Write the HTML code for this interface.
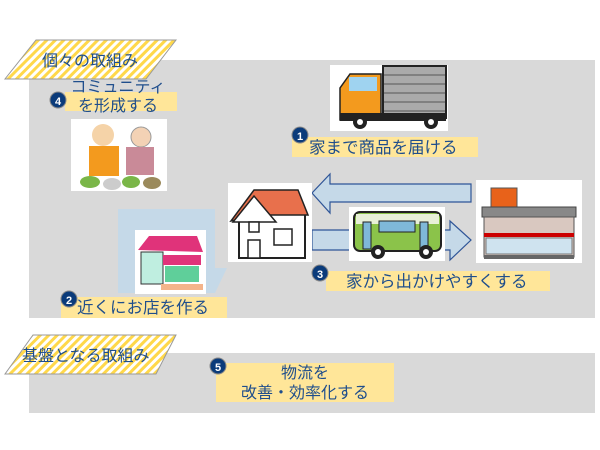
<!DOCTYPE html>
<html><head><meta charset="utf-8"><style>
html,body{margin:0;padding:0;background:#fff;width:600px;height:450px;overflow:hidden}
svg{display:block}
text{font-family:"Liberation Sans","Noto Sans CJK JP",sans-serif;fill:#1f4e8c}
</style></head><body>
<svg width="600" height="450" viewBox="0 0 600 450" xmlns="http://www.w3.org/2000/svg">
<defs>
<pattern id="hatch" width="6" height="6" patternUnits="userSpaceOnUse" patternTransform="rotate(45)">
<rect width="6" height="6" fill="#fff"/><rect width="3" height="6" fill="#ffd84a"/>
</pattern>
</defs>
<rect x="29" y="60" width="566" height="258" fill="#d9d9d9"/>
<rect x="29" y="353" width="566" height="60" fill="#d9d9d9"/>
<polygon points="36,40 176,40 146,79 5,79" fill="url(#hatch)" stroke="#999" stroke-width="1"/>
<text x="42" y="66" font-size="16">個々の取組み</text>
<polygon points="33,335 176,335 156,374 5,374" fill="url(#hatch)" stroke="#999" stroke-width="1"/>
<text x="22" y="361" font-size="16">基盤となる取組み</text>

<!-- item 4 -->
<rect x="65" y="92" width="112" height="19" fill="#ffe699"/>
<text x="118" y="92" font-size="16" text-anchor="middle">コミュニティ</text>
<text x="118" y="111" font-size="16" text-anchor="middle">を形成する</text>
<circle cx="58" cy="100" r="8" fill="#0b3b7a" stroke="#888" stroke-width="1"/>
<text x="58" y="105" font-size="11" font-weight="bold" text-anchor="middle" style="fill:#fff">4</text>
<rect x="71" y="119" width="96" height="72" fill="#fff"/>
<circle cx="103" cy="135" r="11" fill="#f5d3a8"/>
<circle cx="141" cy="137" r="10" fill="#f3d2b5" stroke="#999"/>
<rect x="89" y="146" width="30" height="30" fill="#f39a1e"/>
<rect x="126" y="147" width="28" height="28" fill="#c98a98"/>
<ellipse cx="90" cy="182" rx="10" ry="6" fill="#7ab648"/>
<ellipse cx="112" cy="184" rx="9" ry="6" fill="#ccc"/>
<ellipse cx="131" cy="182" rx="9" ry="6" fill="#7ab648"/>
<ellipse cx="152" cy="183" rx="9" ry="6" fill="#9b8a5c"/>

<!-- truck -->
<rect x="330" y="65" width="118" height="66" fill="#fff"/>
<rect x="383" y="66" width="63" height="52" fill="#aaa" stroke="#222" stroke-width="2"/>
<g stroke="#555" stroke-width="1"><line x1="384" y1="75" x2="445" y2="75"/><line x1="384" y1="84" x2="445" y2="84"/><line x1="384" y1="93" x2="445" y2="93"/><line x1="384" y1="102" x2="445" y2="102"/><line x1="384" y1="111" x2="445" y2="111"/></g>
<path d="M340 120 L340 88 L350 74 L381 74 L381 120 Z" fill="#f39a1e" stroke="#222" stroke-width="1.5"/>
<rect x="349" y="77" width="28" height="14" fill="#9fd3f0"/>
<rect x="340" y="113" width="106" height="8" fill="#222"/>
<circle cx="360" cy="122" r="7" fill="#222"/><circle cx="360" cy="122" r="3" fill="#fff"/>
<circle cx="431" cy="122" r="7" fill="#222"/><circle cx="431" cy="122" r="3" fill="#fff"/>

<rect x="292" y="137" width="186" height="20" fill="#ffe699"/>
<text x="309" y="153" font-size="16.5">家まで商品を届ける</text>
<circle cx="300" cy="135" r="8" fill="#0b3b7a" stroke="#888"/>
<text x="300" y="140" font-size="11" font-weight="bold" text-anchor="middle" style="fill:#fff">1</text>

<!-- arrows -->
<polygon points="471,184 330,184 330,174 312,193 330,213 330,202 471,202" fill="#c5d9e8" stroke="#2f5597" stroke-width="1.2"/>
<polygon points="312,230 450,230 450,221 471,240 450,260 450,250 312,250" fill="#c5d9e8" stroke="#2f5597" stroke-width="1.2"/>

<!-- house -->
<rect x="228" y="183" width="84" height="79" fill="#fff"/>
<rect x="239" y="213" width="66" height="45" fill="#fff" stroke="#222" stroke-width="2"/>
<polygon points="231,221 254,190 298,190 308,215 258,215" fill="#e8704c" stroke="#222" stroke-width="1.5"/>
<polygon points="233,222 254,196 276,222" fill="#fff" stroke="#222" stroke-width="1.5"/>
<rect x="249" y="222" width="10" height="10" fill="#fff" stroke="#222" stroke-width="1.5"/>
<rect x="274" y="229" width="18" height="16" fill="#fff" stroke="#222" stroke-width="1.5"/>
<rect x="248" y="240" width="12" height="18" fill="#fff" stroke="#222" stroke-width="1.5"/>

<!-- bus -->
<rect x="349" y="207" width="96" height="54" fill="#fff"/>
<rect x="354" y="212" width="87" height="39" rx="6" fill="#8bc34a" stroke="#222" stroke-width="2"/>
<rect x="356" y="214" width="83" height="10" fill="#e8f0d8"/>
<rect x="363" y="222" width="8" height="27" fill="#7fb8d8" stroke="#222"/>
<rect x="379" y="221" width="36" height="11" fill="#7fb8d8" stroke="#222"/>
<rect x="420" y="222" width="8" height="27" fill="#7fb8d8" stroke="#222"/>
<circle cx="378" cy="252" r="7" fill="#222"/><circle cx="378" cy="252" r="3" fill="#fff"/>
<circle cx="426" cy="252" r="7" fill="#222"/><circle cx="426" cy="252" r="3" fill="#fff"/>

<!-- store -->
<rect x="476" y="180" width="106" height="83" fill="#fff"/>
<rect x="491" y="188" width="26" height="24" fill="#e8621a" stroke="#555"/>
<rect x="482" y="207" width="94" height="10" fill="#888" stroke="#444"/>
<rect x="484" y="217" width="90" height="40" fill="#d9c8c0" stroke="#555"/>
<rect x="484" y="233" width="90" height="4" fill="#c00"/>
<rect x="486" y="238" width="86" height="16" fill="#cfe3ef" stroke="#777"/>
<rect x="484" y="255" width="90" height="4" fill="#666"/>

<rect x="326" y="271" width="224" height="20" fill="#ffe699"/>
<text x="346" y="287" font-size="16.5">家から出かけやすくする</text>
<circle cx="320" cy="273" r="8" fill="#0b3b7a" stroke="#888"/>
<text x="320" y="278" font-size="11" font-weight="bold" text-anchor="middle" style="fill:#fff">3</text>

<!-- shop -->
<polygon points="118,209 215,209 215,268 227,268 215,293 118,293" fill="#c5d9e8"/>
<rect x="135" y="230" width="71" height="64" fill="#fff"/>
<polygon points="138,250 149,236 197,236 203,252" fill="#e0337a"/>
<rect x="141" y="252" width="22" height="32" fill="#bfeee0" stroke="#333"/>
<rect x="163" y="255" width="38" height="10" fill="#e0337a"/>
<rect x="165" y="266" width="34" height="16" fill="#5fcf9a"/>
<rect x="161" y="284" width="42" height="6" fill="#f4b48a"/>

<rect x="61" y="297" width="166" height="21" fill="#ffe699"/>
<text x="77" y="313" font-size="16.5">近くにお店を作る</text>
<circle cx="69" cy="299" r="8" fill="#0b3b7a" stroke="#888"/>
<text x="69" y="304" font-size="11" font-weight="bold" text-anchor="middle" style="fill:#fff">2</text>

<rect x="216" y="363" width="178" height="39" fill="#ffe699"/>
<text x="305" y="378" font-size="16" text-anchor="middle">物流を</text>
<text x="305" y="398" font-size="16" text-anchor="middle">改善・効率化する</text>
<circle cx="218" cy="366" r="8" fill="#0b3b7a" stroke="#888"/>
<text x="218" y="371" font-size="11" font-weight="bold" text-anchor="middle" style="fill:#fff">5</text>
</svg>
</body></html>
